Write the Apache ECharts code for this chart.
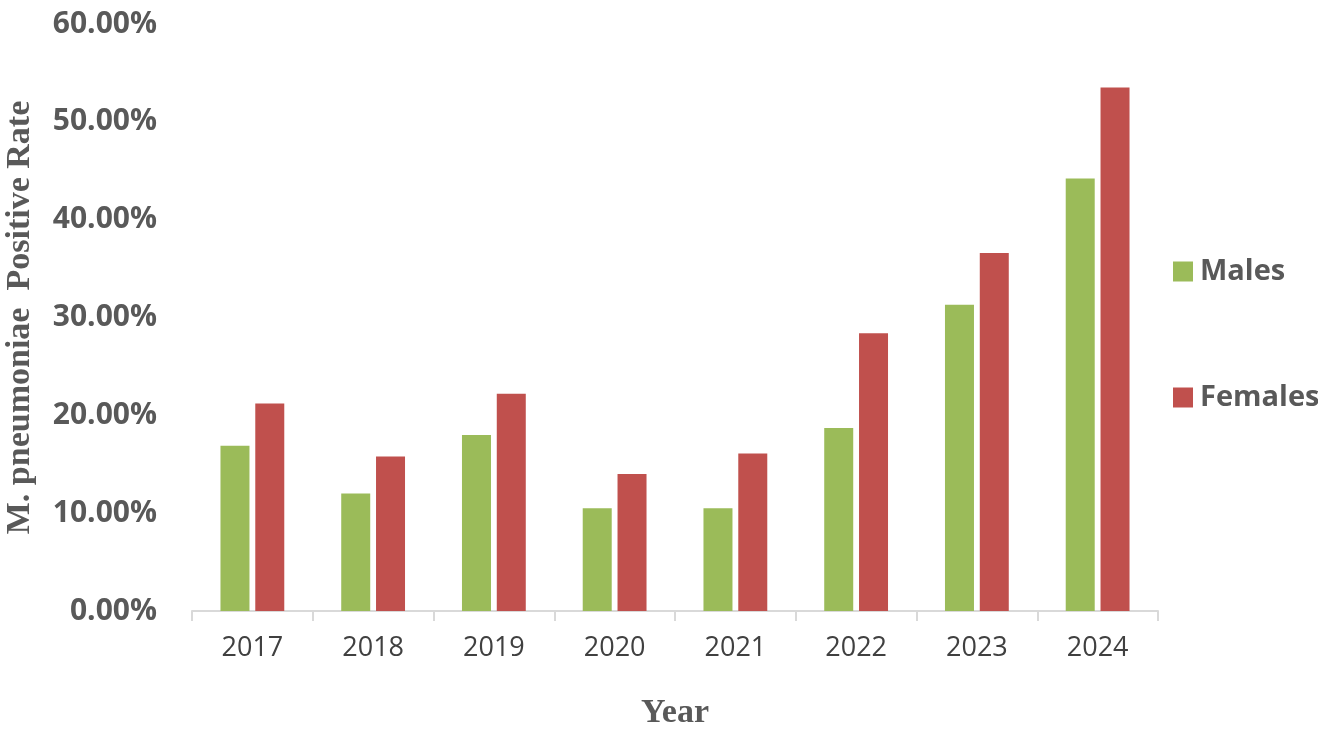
<!DOCTYPE html>
<html>
<head>
<meta charset="utf-8">
<script src="https://cdn.jsdelivr.net/npm/echarts@6/dist/echarts.min.js"></script>
<style>html,body{margin:0;padding:0;background:#fff}#c{width:1318px;height:730px}</style>
</head>
<body>
<div id="c"></div>
<script>
const years = ['2017','2018','2019','2020','2021','2022','2023','2024'];
const males = [16.9, 12.0, 18.0, 10.5, 10.5, 18.7, 31.3, 44.2];
const females = [21.2, 15.8, 22.2, 14.0, 16.1, 28.4, 36.6, 53.5];
const yTicks = [0, 10, 20, 30, 40, 50, 60];

const chart = echarts.init(document.getElementById('c'));
chart.setOption({
  animation: false,
  backgroundColor: '#ffffff',
  grid: { left: 192, right: 160, top: 24, bottom: 119, containLabel: false, outerBoundsMode: 'none' },
  legend: {
    orient: 'vertical',
    left: 1168,
    top: 252,
    itemWidth: 20,
    itemHeight: 20,
    itemGap: 97,
    icon: 'rect',
    textStyle: { fontFamily: 'Open Sans', fontWeight: 'bold', fontSize: 29, color: '#595959', padding: [0, 0, 0, 2] },
    data: ['Males', 'Females']
  },
  xAxis: {
    type: 'category',
    data: years,
    name: 'Year',
    nameLocation: 'middle',
    nameGap: 85,
    nameTextStyle: { fontFamily: 'Liberation Serif', fontWeight: 'bold', fontSize: 34, color: '#595959' },
    axisLine: { lineStyle: { color: '#d9d9d9', width: 2 } },
    axisTick: { show: true, length: 10, lineStyle: { color: '#d9d9d9', width: 2 } },
    axisLabel: { fontFamily: 'Open Sans', fontSize: 27, color: '#404040', margin: 24 }
  },
  yAxis: {
    type: 'value',
    min: yTicks[0],
    max: yTicks[yTicks.length - 1],
    interval: 10,
    name: 'M. pneumoniae  Positive Rate',
    nameLocation: 'middle',
    nameGap: 155,
    nameTextStyle: { fontFamily: 'Liberation Serif', fontWeight: 'bold', fontSize: 34, color: '#595959' },
    axisLine: { show: false },
    axisTick: { show: false },
    splitLine: { show: false },
    axisLabel: {
      fontFamily: 'Open Sans', fontWeight: 'bold', fontSize: 30, color: '#595959', margin: 35,
      formatter: v => v.toFixed(2) + '%'
    }
  },
  series: [
    { name: 'Males', type: 'bar', data: males, barWidth: 29, barGap: '20%',
      itemStyle: { color: '#9BBB59' } },
    { name: 'Females', type: 'bar', data: females, barWidth: 29, barGap: '20%',
      itemStyle: { color: '#C0504D' } }
  ]
});
</script>
</body>
</html>
